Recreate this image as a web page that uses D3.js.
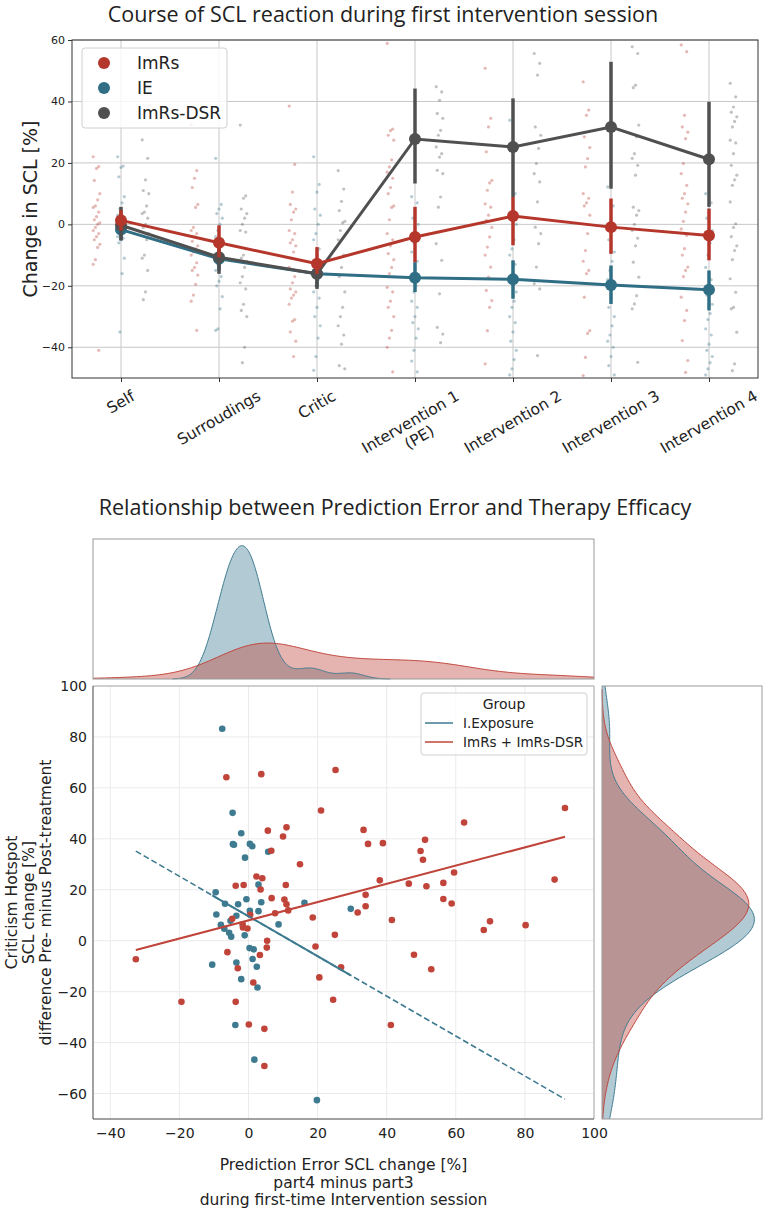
<!DOCTYPE html>
<html>
<head>
<meta charset="utf-8">
<script src="https://cdn.jsdelivr.net/npm/d3@7"></script>
<style>
	body { margin: 0; background: #fff; }
	svg text { font-family: "DejaVu Sans", sans-serif; fill: #222; }
	svg text.title { font-family: "Open Sans", sans-serif; }
</style>
</head>
<body>
<div id="wrapper"></div>
<script>
// ---- top chart: course of SCL reaction ----
const phases = ["Self", "Surroudings", "Critic", "Intervention 1\n(PE)", "Intervention 2", "Intervention 3", "Intervention 4"];
const groups = ["ImRs", "IE", "ImRs-DSR"];
const groupColors = ["#b5362b", "#2f6e85", "#505050"];
const yTicksTop = [-40, -20, 0, 20, 40, 60];

const imrsMean = [1.3, -6, -12.8, -4.1, 2.7, -0.9, -3.6];
const imrsLow = [-2, -10.7, -16.1, -12.3, -6.8, -9.6, -11.7];
const imrsHigh = [4.6, -0.3, -7.4, 5.7, 8.9, 8.4, 5.1];
const ieMean = [-1.7, -11.2, -16.1, -17.4, -17.9, -19.7, -21.3];
const ieLow = [-5.2, -15, -20.4, -22, -24.2, -25.9, -28];
const ieHigh = [0.8, -7.9, -12.3, -12.3, -11.7, -13.4, -15];
const dsrMean = [-0.3, -10.7, -16.1, 27.8, 25.2, 31.7, 21.2];
const dsrLow = [-5.2, -16.1, -21, 13.3, 8.9, 11.6, 5.7];
const dsrHigh = [5.7, -6.3, -11.2, 44.2, 41, 52.9, 39.9];

const imrsStrip = [
	[22, 18.8, 18.2, 14.3, 10, 8, 6, 5.5, 4, 2.5, 1.5, 0.5, 0, -1, -2, -3, -4, -5, -6.5, -7.5, -11.5, -13, -41],
	[32.5, 17.5, 15, 12, 6.5, 5.5, -1, -2, -3, -4, -5.5, -7, -8, -9, -10, -12.5, -14, -15, -16.5, -19.5, -23, -25, -34.5],
	[38.5, 19.5, 10.5, 6.5, 5, 4, 1.5, -2, -3, -5, -6, -7, -9, -11, -14, -17, -19, -21, -22, -23, -24, -26, -31, -31.5, -35, -38, -43],
	[58.9, 31, 30.5, 29, 27.4, 21, 18.7, 17, 15, 12, 10, 6, 5.5, 1.5, -3, -5, -7, -9.5, -11.5, -14, -16, -20.5, -22, -25, -27, -30, -34.5, -37, -40, -48],
	[50.8, 34.5, 31.7, 23.6, 14.3, 13.5, 11.1, 6.7, 5.6, 3, 1.3, -1, -4.1, -7.4, -10, -13.9, -17.2, -21.5, -24.8, -27, -34.6, -45.4],
	[46.4, 37.2, 35.5, 28.5, 25, 21.4, 18.7, 10, 8.5, 7, 6, 3, -3, -8.5, -12, -15, -16, -23.7, -34.6, -35.5, -43.3, -49.2],
	[58.4, 56.2, 35.5, 31.7, 30, 27.9, 19.8, 16.5, 12.7, 10, 8.5, 6.7, 4, 1, -1.5, -3.6, -7.9, -10, -13.9, -15, -17, -23.7, -28, -31.3, -37.8, -44.3, -48.2],
];
const ieStrip = [
	[22, 19, 18.5, 15.5, 9, 7, 5, 3, 2, 1, 0, -1, -2, -3, -4, -4.5, -5, -6, -11, -16, -35],
	[21.5, 6.5, 5, 3.5, 2, 0, -2, -4, -6, -8, -10, -11, -12, -13, -15, -17, -18.5, -20, -23.5, -27.5, -34, -34.5],
	[22, 13, 10.5, 5, 3, 0, -3, -5, -8, -10, -13, -16, -18, -20, -22, -24, -27, -30, -33, -37, -43, -47.5],
	[9, 7, 4, 2, 0, -3, -6, -9, -12, -14, -16, -18, -20, -22, -25, -27, -30, -32, -34, -37, -41, -44.5, -48],
	[33.9, 10, 7, 4, 0, -5, -8, -10, -13, -16, -19, -22, -25, -27, -30, -32, -35, -38, -41, -44, -47, -49],
	[12.2, 6, 2, -5, -9, -12, -15, -18, -21, -24, -27, -30, -33, -36, -38, -40, -43, -46, -49],
	[10, 7, 5, 2, -2, -6, -10, -14, -18, -20, -23, -26, -29, -31, -34, -36, -39, -41, -43, -45, -47, -49],
];
const dsrStrip = [
	[27.5, 21.5, 14.5, 11, 10, 6, 4, 3.5, 2, 0, -1, -3, -5, -10, -11, -15, -22, -24.5],
	[32.3, 9.3, 8.5, 5, 3.5, 2, 0, -2, -2.5, -10, -11, -12, -14, -17, -19, -21, -26, -28, -30, -40, -45],
	[17.5, 11.5, 7.5, 4.5, 1, 0.5, -2, -5, -10, -14, -17, -22, -27, -30, -33, -36, -39, -46, -47],
	[44.8, 43.1, 40.4, 36.1, 34.5, 30.6, 29, 25.2, 23, 21.9, 17.6, 16.5, 8.9, 5.6, -6.3, -11.7, -22.6, -33.5, -35.7, -38.5],
	[55.6, 52.4, 48.6, 31.7, 29, 24.7, 19.8, 16.5, 13.8, 7.3, -0.9, -3, -6.3, -13.9, -19.3, -21, -42.7],
	[57.8, 55.6, 45.3, 44.5, 32.3, 28.5, 23, 21.5, 19.2, 16, 5.6, 4.5, 3, 0, -2, -4.5, -7, -12.3, -17.2, -23.2, -25.9, -27.5, -44.9],
	[45.9, 41.5, 38.2, 36.5, 35, 33.5, 31.7, 27.4, 26.5, 23, 19.2, 16, 14.5, 12.7, 7.3, 0.2, -1, -4, -7, -8.5, -11.5, -17.7, -22.1, -27, -27.5, -35.1, -45.4, -47.6],
];

// ---- bottom chart: prediction error vs efficacy ----
const regGroups = ["I.Exposure", "ImRs + ImRs-DSR"];
const regColors = ["#3e7b90", "#c0443a"];
const regIntercept = [9.6, 8.0];
const regSlope = [-0.784, 0.358];
const xTicksScatter = [-40, -20, 0, 20, 40, 60, 80, 100];
const yTicksScatter = [-60, -40, -20, 0, 20, 40, 60, 80, 100];

const ieScatter = [
	[-7.6, 83.2], [-4.6, 50.2], [-2.1, 42.2], [-4.5, 37.9], [-4.2, 37.7], [0.4, 38.0], [1.1, 37.1],
	[-1.0, 32.6], [5.7, 34.9], [2.9, 22.0], [-9.5, 19.0], [-0.6, 16.3], [3.7, 15.1], [-3.0, 14.3],
	[-6.8, 14.5], [16.2, 14.9], [29.6, 12.5], [-9.3, 10.3], [0.4, 11.7], [2.9, 11.6], [-3.5, 9.8],
	[-5.2, 7.8], [-8.0, 6.2], [8.7, 6.4], [-7.0, 4.7], [-5.6, 3.1], [-5.0, 1.6], [-1.1, 2.1],
	[0.3, -2.9], [1.5, -3.4], [1.2, -7.2], [-10.5, -9.4], [-3.5, -8.6], [2.4, -10.2], [-2.1, -15.1],
	[2.6, -18.4], [-3.8, -33.1], [1.7, -46.7], [19.8, -62.6],
];
const imrsScatter = [
	[-6.4, 64.2], [3.7, 65.4], [25.2, 67.0], [21.0, 51.1], [5.6, 43.2], [11.0, 44.5], [10.0, 40.9],
	[6.6, 35.3], [14.9, 30.0], [33.3, 43.5], [34.6, 38.0], [2.3, 25.2], [4.0, 24.5], [-3.7, 21.6],
	[-1.4, 21.9], [10.8, 21.9], [3.5, 20.1], [6.7, 16.7], [10.4, 16.2], [11.0, 14.3], [11.5, 11.9],
	[7.7, 10.8], [18.6, 9.1], [33.9, 18.0], [33.9, 13.5], [31.6, 11.1], [-4.7, 8.6], [38.0, 23.7],
	[91.6, 52.1], [62.4, 46.4], [38.9, 38.3], [51.1, 39.6], [49.8, 35.2], [50.5, 31.8], [59.5, 26.8],
	[46.4, 22.4], [51.5, 21.4], [56.4, 22.7], [88.6, 24.0], [56.4, 16.4], [58.8, 14.6], [41.5, 8.1],
	[69.9, 7.6], [80.2, 6.1], [68.1, 4.2], [47.9, -5.5], [52.9, -11.2], [41.2, -33.1], [-32.6, -7.3],
	[-19.4, -24.0], [-6.1, -4.5], [-3.1, -10.8], [-3.7, -24.0], [0.1, -32.9], [4.6, -34.6], [4.6, -49.2],
	[1.4, -16.4], [3.3, -5.6], [5.3, -2.7], [5.4, 0.0], [-0.3, 4.8], [-1.6, 5.2], [-1.7, 6.4],
	[0.5, 10.2], [19.4, -2.3], [20.5, -14.4], [25.0, 2.3], [24.5, -23.2], [26.8, -10.4],
];

const drawChart = () => {
	const svg = d3
		.select("#wrapper")
		.append("svg")
		.attr("width", 767)
		.attr("height", 1212);

	svg.append("text")
		.attr("class", "title")
		.attr("x", 383)
		.attr("y", 22)
		.attr("text-anchor", "middle")
		.style("font-size", "21.5px")
		.text("Course of SCL reaction during first intervention session");

	svg.append("text")
		.attr("class", "title")
		.attr("x", 395)
		.attr("y", 515)
		.attr("text-anchor", "middle")
		.style("font-size", "21.5px")
		.text("Relationship between Prediction Error and Therapy Efficacy");

	// 1. top chart scales
	const top = { left: 72, right: 758, top: 40, bottom: 378 };
	const xTop = d3.scaleLinear().domain([-0.5, 6.5]).range([top.left, top.right]);
	const yTop = d3.scaleLinear().domain([-50, 60]).range([top.bottom, top.top]);

	const grid = svg.append("g").attr("stroke", "#c8c8c8").attr("stroke-width", 1);
	grid.selectAll(".vg").data(d3.range(phases.length)).join("line")
		.attr("x1", (d) => xTop(d)).attr("x2", (d) => xTop(d))
		.attr("y1", top.top).attr("y2", top.bottom);
	grid.selectAll(".hg").data(yTicksTop).join("line")
		.attr("x1", top.left).attr("x2", top.right)
		.attr("y1", (d) => yTop(d)).attr("y2", (d) => yTop(d));

	svg.append("clipPath").attr("id", "clipTop").append("rect")
		.attr("x", top.left).attr("y", top.top)
		.attr("width", top.right - top.left).attr("height", top.bottom - top.top);

	// strip points, dodged per group
	const strips = [imrsStrip, ieStrip, dsrStrip];
	const dodge = [-0.25, 0, 0.25];
	const stripG = svg.append("g").attr("clip-path", "url(#clipTop)");
	strips.forEach((strip, g) => {
		strip.forEach((col, c) => {
			stripG.selectAll(null).data(col).join("circle")
				.attr("cx", (d, i) => xTop(c + dodge[g]) + ((i * 5) % 7 - 3) * 1.1)
				.attr("cy", (d) => yTop(d))
				.attr("r", 1.6)
				.attr("fill", groupColors[g])
				.attr("opacity", 0.35);
		});
	});

	// point plots with CI bars (drawn IE, DSR, ImRs)
	const series = [
		{ g: 1, mean: ieMean, low: ieLow, high: ieHigh },
		{ g: 2, mean: dsrMean, low: dsrLow, high: dsrHigh },
		{ g: 0, mean: imrsMean, low: imrsLow, high: imrsHigh },
	];
	const line = d3.line().x((d, i) => xTop(i)).y((d) => yTop(d));
	series.forEach((s) => {
		const gp = svg.append("g");
		gp.selectAll("line").data(s.mean).join("line")
			.attr("x1", (d, i) => xTop(i)).attr("x2", (d, i) => xTop(i))
			.attr("y1", (d, i) => yTop(s.low[i])).attr("y2", (d, i) => yTop(s.high[i]))
			.attr("stroke", groupColors[s.g])
			.attr("stroke-width", 3.5);
		gp.append("path")
			.attr("d", line(s.mean))
			.attr("fill", "none")
			.attr("stroke", groupColors[s.g])
			.attr("stroke-width", 3);
		gp.selectAll("circle").data(s.mean).join("circle")
			.attr("cx", (d, i) => xTop(i)).attr("cy", (d) => yTop(d))
			.attr("r", 6)
			.attr("fill", groupColors[s.g]);
	});

	svg.append("rect")
		.attr("x", top.left).attr("y", top.top)
		.attr("width", top.right - top.left).attr("height", top.bottom - top.top)
		.attr("fill", "none").attr("stroke", "#333").attr("stroke-width", 1);

	const yAxisTop = svg.append("g")
		.attr("transform", `translate(${top.left},0)`)
		.call(d3.axisLeft(yTop).tickValues(yTicksTop).tickSize(4).tickPadding(3));
	yAxisTop.select(".domain").remove();
	yAxisTop.selectAll("text").style("font-size", "11px").attr("fill", "#222");
	yAxisTop.selectAll("line").attr("stroke", "#333");

	const xAxisTop = svg.append("g")
		.attr("transform", `translate(0,${top.bottom})`)
		.call(d3.axisBottom(xTop).tickValues(d3.range(phases.length)).tickSize(4).tickFormat(""));
	xAxisTop.select(".domain").remove();
	xAxisTop.selectAll("line").attr("stroke", "#333");

	phases.forEach((label, i) => {
		const g = svg.append("g");
		const t = g.append("text")
			.attr("text-anchor", "middle")
			.attr("transform", "rotate(-30)")
			.style("font-size", "15.5px");
		label.split("\n").forEach((part, k) => {
			t.append("tspan").attr("x", 0).attr("dy", k === 0 ? 0 : "1.15em").text(part);
		});
		const bb = g.node().getBBox();
		g.attr("transform", `translate(${xTop(i) - (bb.x + bb.width / 2)},${387 - bb.y})`);
	});

	svg.append("text")
		.attr("transform", `translate(37,${(top.top + top.bottom) / 2}) rotate(-90)`)
		.attr("text-anchor", "middle")
		.style("font-size", "19px")
		.text("Change in SCL [%]");

	// legend
	const leg = svg.append("g");
	leg.append("rect")
		.attr("x", 82).attr("y", 48).attr("width", 145).attr("height", 80)
		.attr("rx", 3).attr("fill", "#fff").attr("fill-opacity", 0.8)
		.attr("stroke", "#d0d0d0");
	groups.forEach((name, i) => {
		leg.append("circle").attr("cx", 104).attr("cy", 63 + i * 25).attr("r", 6).attr("fill", groupColors[i]);
		leg.append("text").attr("x", 137).attr("y", 69 + i * 25).style("font-size", "17px").text(name);
	});

	// 2. scatter with marginals
	const main = { left: 93, right: 594, top: 686, bottom: 1119 };
	const xS = d3.scaleLinear().domain([-45, 100]).range([main.left, main.right]);
	const yS = d3.scaleLinear().domain([-70, 100]).range([main.bottom, main.top]);

	const sgrid = svg.append("g").attr("stroke", "#ebebeb").attr("stroke-width", 1);
	sgrid.selectAll(".vx").data(xTicksScatter).join("line")
		.attr("x1", (d) => xS(d)).attr("x2", (d) => xS(d))
		.attr("y1", main.top).attr("y2", main.bottom);
	sgrid.selectAll(".hy").data(yTicksScatter).join("line")
		.attr("x1", main.left).attr("x2", main.right)
		.attr("y1", (d) => yS(d)).attr("y2", (d) => yS(d));

	const scatterSets = [ieScatter, imrsScatter];
	scatterSets.forEach((set, k) => {
		svg.append("g").selectAll("circle").data(set).join("circle")
			.attr("cx", (d) => xS(d[0])).attr("cy", (d) => yS(d[1]))
			.attr("r", 3.3)
			.attr("fill", regColors[k]);
	});

	// regression lines: blue dashed over full range, solid over own range
	const allX = scatterSets.flat().map((d) => d[0]);
	const fullExt = d3.extent(allX);
	const fit = (k, x) => regIntercept[k] + regSlope[k] * x;
	const regLine = (k, ext, dashed) => {
		svg.append("line")
			.attr("x1", xS(ext[0])).attr("y1", yS(fit(k, ext[0])))
			.attr("x2", xS(ext[1])).attr("y2", yS(fit(k, ext[1])))
			.attr("stroke", regColors[k])
			.attr("stroke-width", dashed ? 1.6 : 2)
			.attr("stroke-dasharray", dashed ? "6,3" : null);
	};
	regLine(0, fullExt, true);
	regLine(0, d3.extent(ieScatter, (d) => d[0]), false);
	regLine(1, d3.extent(imrsScatter, (d) => d[0]), false);

	svg.append("line").attr("x1", main.left).attr("x2", main.right).attr("y1", main.top).attr("y2", main.top).attr("stroke", "#aaa");
	svg.append("line").attr("x1", main.right).attr("x2", main.right).attr("y1", main.top).attr("y2", main.bottom).attr("stroke", "#aaa");
	svg.append("line").attr("x1", main.left).attr("x2", main.left).attr("y1", main.top).attr("y2", main.bottom).attr("stroke", "#444");
	svg.append("line").attr("x1", main.left).attr("x2", main.right).attr("y1", main.bottom).attr("y2", main.bottom).attr("stroke", "#444");

	const xAxisS = svg.append("g")
		.attr("transform", `translate(0,${main.bottom})`)
		.call(d3.axisBottom(xS).tickValues(xTicksScatter).tickSize(0).tickPadding(9));
	xAxisS.select(".domain").remove();
	xAxisS.selectAll("text").style("font-size", "14px").attr("fill", "#222");

	const yAxisS = svg.append("g")
		.attr("transform", `translate(${main.left},0)`)
		.call(d3.axisLeft(yS).tickValues(yTicksScatter).tickSize(0).tickPadding(6));
	yAxisS.select(".domain").remove();
	yAxisS.selectAll("text").style("font-size", "14px").attr("fill", "#222");

	const xLab = ["Prediction Error SCL change [%]", "part4 minus part3", "during first-time Intervention session"];
	xLab.forEach((s, i) => {
		svg.append("text").attr("x", (main.left + main.right) / 2).attr("y", 1170 + i * 17.5)
			.attr("text-anchor", "middle").style("font-size", "15.5px").text(s);
	});
	const yLab = ["Criticism Hotspot", "SCL change [%]", "difference Pre- minus Post-treatment"];
	yLab.forEach((s, i) => {
		svg.append("text")
			.attr("transform", `translate(${17 + i * 17},${(main.top + main.bottom) / 2}) rotate(-90)`)
			.attr("text-anchor", "middle").style("font-size", "15.5px").text(s);
	});

	// legend
	const sleg = svg.append("g");
	sleg.append("rect")
		.attr("x", 421).attr("y", 693).attr("width", 166).attr("height", 62)
		.attr("rx", 3).attr("fill", "#fff").attr("fill-opacity", 0.8).attr("stroke", "#d0d0d0");
	sleg.append("text").attr("x", 504).attr("y", 709).attr("text-anchor", "middle")
		.style("font-size", "14px").text("Group");
	regGroups.forEach((name, k) => {
		sleg.append("line").attr("x1", 425).attr("x2", 453)
			.attr("y1", 723 + k * 19).attr("y2", 723 + k * 19)
			.attr("stroke", regColors[k]).attr("stroke-width", 1.5);
		sleg.append("text").attr("x", 463).attr("y", 728 + k * 19)
			.style("font-size", "13.5px").text(name);
	});

	// marginal KDEs (gaussian, Scott bandwidth)
	const kde = (values, lo, hi) => {
		const n = values.length;
		const bw = d3.deviation(values) * Math.pow(n, -0.2);
		const start = Math.max(lo, d3.min(values) - 3 * bw);
		const end = Math.min(hi, d3.max(values) + 3 * bw);
		return d3.range(301).map((k) => {
			const v = start + ((end - start) * k) / 300;
			const dens = d3.mean(values, (d) => Math.exp(-0.5 * ((v - d) / bw) ** 2)) / (bw * Math.sqrt(2 * Math.PI));
			return [v, dens];
		});
	};

	const topM = { left: 93, right: 594, top: 539, bottom: 679 };
	const kx = scatterSets.map((set) => kde(set.map((d) => d[0]), -45, 100));
	const yM = d3.scaleLinear()
		.domain([0, d3.max(kx.flat(), (d) => d[1]) * 1.05])
		.range([topM.bottom, topM.top]);
	const areaTop = d3.area().x((d) => xS(d[0])).y0(topM.bottom).y1((d) => yM(d[1]));
	const lineTop = d3.line().x((d) => xS(d[0])).y((d) => yM(d[1]));
	kx.forEach((curve, k) => {
		svg.append("path").attr("d", areaTop(curve)).attr("fill", regColors[k]).attr("fill-opacity", 0.4);
	});
	kx.forEach((curve, k) => {
		svg.append("path").attr("d", lineTop(curve)).attr("fill", "none").attr("stroke", regColors[k]).attr("stroke-width", 1);
	});
	svg.append("rect")
		.attr("x", topM.left).attr("y", topM.top)
		.attr("width", topM.right - topM.left).attr("height", topM.bottom - topM.top)
		.attr("fill", "none").attr("stroke", "#999");

	const rightM = { left: 602, right: 762, top: 686, bottom: 1119 };
	const ky = scatterSets.map((set) => kde(set.map((d) => d[1]), -70, 100));
	const xM = d3.scaleLinear()
		.domain([0, d3.max(ky.flat(), (d) => d[1]) * 1.05])
		.range([rightM.left, rightM.right]);
	const areaRight = d3.area().y((d) => yS(d[0])).x0(rightM.left).x1((d) => xM(d[1]));
	const lineRight = d3.line().y((d) => yS(d[0])).x((d) => xM(d[1]));
	ky.forEach((curve, k) => {
		svg.append("path").attr("d", areaRight(curve)).attr("fill", regColors[k]).attr("fill-opacity", 0.4);
	});
	ky.forEach((curve, k) => {
		svg.append("path").attr("d", lineRight(curve)).attr("fill", "none").attr("stroke", regColors[k]).attr("stroke-width", 1);
	});
	svg.append("rect")
		.attr("x", rightM.left).attr("y", rightM.top)
		.attr("width", rightM.right - rightM.left).attr("height", rightM.bottom - rightM.top)
		.attr("fill", "none").attr("stroke", "#999");
};

drawChart();
</script>
</body>
</html>
